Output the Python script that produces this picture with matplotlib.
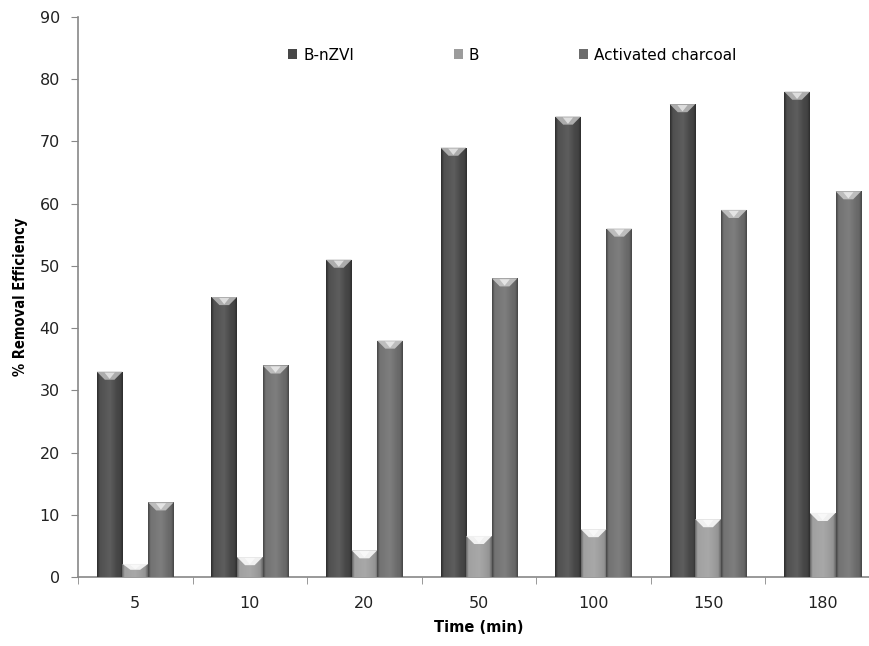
import numpy as np
import matplotlib.pyplot as plt
from matplotlib.patches import Polygon, Patch
from matplotlib.colors import to_rgb

times = ["5", "10", "20", "50", "100", "150", "180"]
b_nzvi = [33, 45, 51, 69, 74, 76, 78]
b_only = [2.1, 3.2, 4.3, 6.6, 7.7, 9.3, 10.3]
charcoal = [12, 34, 38, 48, 56, 59, 62]

series = [("B-nZVI", b_nzvi, "#474747"),
          ("B", b_only, "#9c9c9c"),
          ("Activated charcoal", charcoal, "#6c6c6c")]

plt.rcParams['font.family'] = ['DejaVu Sans']

fig = plt.figure(figsize=(8.7, 6.46), dpi=100)
ax = fig.add_axes([78 / 870, 69 / 646, 802 / 870, 560 / 646])

x = np.arange(len(times))
width = 0.2237


def shade(col, k):
    c = np.array(to_rgb(col))
    if k >= 0:
        return c + (1 - c) * k
    return c * (1 + k)


# horizontal profile of the bevelled bar: dark edges, lighter body
prof = np.concatenate([np.linspace(-0.35, 0.05, 6), np.linspace(0.05, 0.12, 20),
                       np.linspace(0.12, -0.05, 20), np.linspace(-0.05, -0.35, 6)])

for j, (name, vals, col) in enumerate(series):
    pos = x - width + j * width
    bars = ax.bar(pos, vals, width=width, color=col, edgecolor="none", zorder=2)
    grad = np.array([[shade(col, k) for k in prof]])
    for b in bars:
        x0, w, h = b.get_x(), b.get_width(), b.get_height()
        im = ax.imshow(grad, extent=[x0, x0 + w, 0, h], aspect="auto",
                       interpolation="bilinear", zorder=3)
        im.set_clip_path(b)
        bh = min(1.3, h * 0.45)
        dx = 0.07
        top = Polygon([[x0, h], [x0 + w, h], [x0 + w - dx, h - bh], [x0 + dx, h - bh]],
                      closed=True, facecolor=shade(col, 0.55 if j != 1 else 0.85),
                      edgecolor="none", zorder=4)
        ax.add_patch(top)
        hi = Polygon([[x0 + w * 0.3, h - 0.15], [x0 + w * 0.7, h - 0.15], [x0 + w * 0.5, h - bh * 0.9]],
                     closed=True, facecolor="white", alpha=0.6, edgecolor="none", zorder=5)
        ax.add_patch(hi)

ax.set_xlim(-0.5, len(times) - 0.5)
ax.set_ylim(0, 90)
ax.set_yticks(np.arange(0, 91, 10))
ax.set_xticks(x)
ax.set_xticklabels(times)
ax.set_xticks(np.arange(-0.5, len(times), 1), minor=True)
ax.tick_params(axis="x", which="major", length=0, pad=14, labelsize=11.5, labelcolor="#222222")
ax.tick_params(axis="x", which="minor", length=5, color="#888888")
ax.tick_params(axis="y", length=5, color="#888888", labelsize=11.5, labelcolor="#222222", pad=8)

for s in ["top", "right"]:
    ax.spines[s].set_visible(False)
for s in ["left", "bottom"]:
    ax.spines[s].set_color("#888888")
    ax.spines[s].set_linewidth(1.2)

ax.set_xlabel("Time (min)", fontsize=10.5, fontweight="bold", labelpad=6)
ax.set_ylabel("% Removal Efficiency", fontsize=10.5, fontweight="bold", labelpad=8,
              fontstretch="condensed")

handles = [Patch(facecolor=c, edgecolor="none") for _, _, c in series]
ax.legend(handles, [s[0] for s in series], ncol=3, loc="upper left",
          bbox_to_anchor=(0.245, 0.97), frameon=False, fontsize=11,
          handlelength=0.6, handleheight=0.6, handletextpad=0.4, columnspacing=6.5)

fig.savefig("out.png", dpi=100)
